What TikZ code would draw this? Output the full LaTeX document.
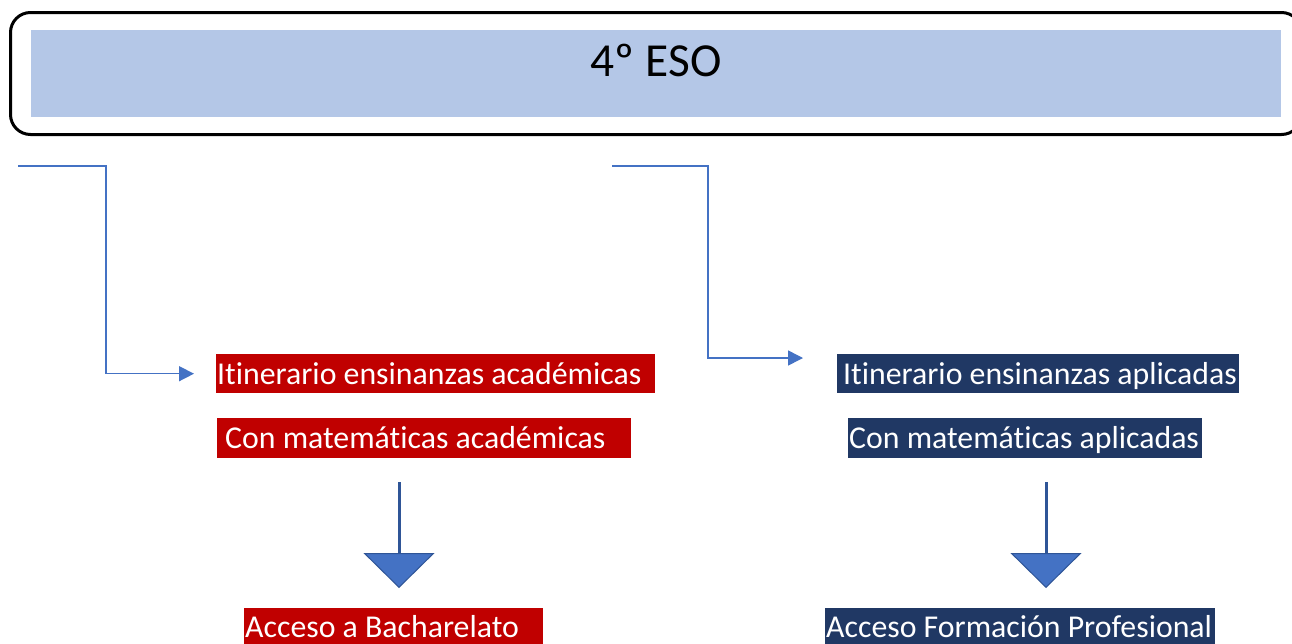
\documentclass[tikz,border=0pt]{standalone}
\usepackage{fontspec}
\setmainfont{Carlito}[Ligatures={NoCommon}]
\usetikzlibrary{arrows.meta}
\definecolor{titleblue}{HTML}{B4C7E7}
\definecolor{redbox}{HTML}{C00000}
\definecolor{navybox}{HTML}{203864}
\definecolor{connblue}{HTML}{4472C4}
\definecolor{darkblue}{HTML}{2F5597}
\newcommand{\lbl}[3]{\makebox[#1][l]{\hspace*{#2}#3}}
\tikzset{
  labelbox/.style={anchor=north west, inner sep=0pt, text=white,
    font=\fontsize{31.8}{38}\selectfont},
  redlabel/.style={labelbox, fill=redbox},
  navylabel/.style={labelbox, fill=navybox},
  conn/.style={draw=connblue, line width=1.5pt, -{Triangle[length=15pt,width=15pt]}},
  downarr/.style={draw=darkblue, line width=3pt,
    -{Triangle[length=35pt,width=71pt,fill=connblue,line width=1pt]}}
}
\begin{document}
\begin{tikzpicture}[x=1pt,y=-1pt]
\clip (0,0) rectangle (1292,643);
\fill[white] (0,0) rectangle (1292,643);
% header
\node[draw=black, line width=3pt, rounded corners=20pt, anchor=north west,
  minimum width=1291pt, minimum height=122pt, inner sep=0pt] (outer) at (9,11) {};
\node[fill=titleblue, anchor=north west, inner sep=0pt, minimum width=1250pt,
  text height=46pt, text depth=41pt, font=\fontsize{47.4}{56}\selectfont] (title) at (31,30) {4º ESO};
% label boxes
\node[redlabel, text height=30pt, text depth=9pt] (a1) at (216,354)
  {\lbl{439pt}{1pt}{Itinerario ensinanzas académicas}};
\node[redlabel, text height=30pt, text depth=10pt] (a2) at (217,418)
  {\lbl{414pt}{8pt}{Con matemáticas académicas}};
\node[redlabel, text height=29pt, text depth=13pt] (a3) at (244,608)
  {\lbl{299pt}{1pt}{Acceso a Bacharelato}};
\node[navylabel, text height=30pt, text depth=9pt] (b1) at (837,354)
  {\lbl{402pt}{6pt}{Itinerario ensinanzas aplicadas}};
\node[navylabel, text height=30pt, text depth=10pt] (b2) at (848,418)
  {\lbl{354pt}{1pt}{Con matemáticas aplicadas}};
\node[navylabel, text height=29pt, text depth=13pt] (b3) at (825,608)
  {\lbl{390pt}{1pt}{Acceso Formación Profesional}};
% elbow connectors
\coordinate (s1) at (18,166);
\coordinate (s2) at (612,166);
\coordinate (e2) at (803,358);
\draw[conn, shorten >=22pt] (s1) -- (106,166) |- (a1.west);
\draw[conn] (s2) -- (708,166) |- (e2);
% down arrows
\coordinate (d1s) at (399,482);
\coordinate (d1e) at (399,588);
\coordinate (d2s) at (1046,482);
\coordinate (d2e) at (1046,588);
\draw[downarr] (d1s) -- (d1e);
\draw[downarr] (d2s) -- (d2e);
\end{tikzpicture}
\end{document}
